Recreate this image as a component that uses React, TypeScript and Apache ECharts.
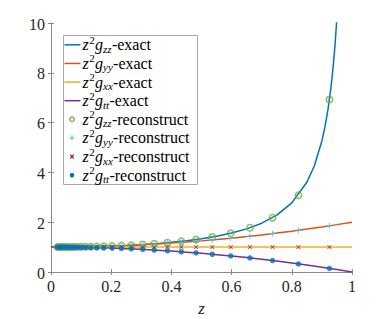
import React, { useEffect, useRef } from "react";
import * as echarts from "echarts";

// exact curves
const lineZ = [0, 0.05, 0.1, 0.15, 0.2, 0.25, 0.3, 0.35, 0.4, 0.45, 0.5, 0.55, 0.6, 0.65, 0.7, 0.75, 0.8, 0.85, 0.9, 0.95, 1];
const yyExact = [1, 1.0025, 1.01, 1.0225, 1.04, 1.0625, 1.09, 1.1225, 1.16, 1.2025, 1.25, 1.3025, 1.36, 1.4225, 1.49, 1.5625, 1.64, 1.7225, 1.81, 1.9025, 2];
const xxExact = [1, 1, 1, 1, 1, 1, 1, 1, 1, 1, 1, 1, 1, 1, 1, 1, 1, 1, 1, 1, 1];
const ttExact = [1, 0.9975, 0.99, 0.9775, 0.96, 0.9375, 0.91, 0.8775, 0.84, 0.7975, 0.75, 0.6975, 0.64, 0.5775, 0.51, 0.4375, 0.36, 0.2775, 0.19, 0.0975, 0];
const zzLineZ = [0, 0.05, 0.1, 0.15, 0.2, 0.25, 0.3, 0.35, 0.4, 0.45, 0.5, 0.55, 0.6, 0.65, 0.7, 0.75, 0.8, 0.85, 0.875, 0.9, 0.91, 0.92, 0.93, 0.935, 0.94, 0.945, 0.95];
const zzExact = [1, 1.0025, 1.0101, 1.023, 1.0417, 1.0667, 1.0989, 1.1396, 1.1905, 1.2539, 1.3333, 1.4337, 1.5625, 1.7316, 1.9608, 2.2857, 2.7778, 3.6036, 4.2667, 5.2632, 5.8173, 6.5104, 7.4074, 7.9506, 8.5911, 9.3479, 10.2564];

// reconstructed points
const reconZ = [0.021, 0.029, 0.037, 0.046, 0.054, 0.064, 0.075, 0.087, 0.1, 0.115, 0.132, 0.152, 0.175, 0.203, 0.234, 0.267, 0.305, 0.343, 0.387, 0.433, 0.482, 0.536, 0.597, 0.661, 0.736, 0.822, 0.925];
const zzRecon = [1.0, 1.001, 1.001, 1.002, 1.003, 1.004, 1.006, 1.008, 1.01, 1.013, 1.018, 1.024, 1.032, 1.043, 1.058, 1.077, 1.103, 1.133, 1.176, 1.231, 1.303, 1.403, 1.554, 1.776, 2.182, 3.084, 6.925];
const yyRecon = [1.0, 1.001, 1.001, 1.002, 1.003, 1.004, 1.006, 1.008, 1.01, 1.013, 1.017, 1.023, 1.031, 1.041, 1.055, 1.071, 1.093, 1.118, 1.15, 1.188, 1.232, 1.287, 1.356, 1.437, 1.542, 1.676, 1.856];
const xxRecon = [1, 1, 1, 1, 1, 1, 1, 1, 1, 1, 1, 1, 1, 1, 1, 1, 1, 1, 1, 1, 1, 1, 1, 1, 1, 1, 1];
const ttRecon = [1.0, 0.999, 0.999, 0.998, 0.997, 0.996, 0.994, 0.992, 0.99, 0.987, 0.983, 0.977, 0.969, 0.959, 0.945, 0.929, 0.907, 0.882, 0.85, 0.813, 0.768, 0.713, 0.644, 0.563, 0.458, 0.324, 0.144];

const xTicks = [0, 0.2, 0.4, 0.6, 0.8, 1];
const yTicks = [0, 2, 4, 6, 8, 10];
const xName = "z";

const names = [
  { key: "zz-exact", sub: "zz", tail: "-exact" },
  { key: "yy-exact", sub: "yy", tail: "-exact" },
  { key: "xx-exact", sub: "xx", tail: "-exact" },
  { key: "tt-exact", sub: "tt", tail: "-exact" },
  { key: "zz-reconstruct", sub: "zz", tail: "-reconstruct" },
  { key: "yy-reconstruct", sub: "yy", tail: "-reconstruct" },
  { key: "xx-reconstruct", sub: "xx", tail: "-reconstruct" },
  { key: "tt-reconstruct", sub: "tt", tail: "-reconstruct" },
];

const FAM = "Liberation Serif";
const AXIS = "#8a8a8a";
const LABEL = "#262626";
const C_ZZ = "#0072BD";
const C_YY = "#D95319";
const C_XX = "#EDB120";
const C_TT = "#7E2F8E";
const M_ZZ = "#77AC30";
const M_YY = "#4DBEEE";
const M_XX = "#A2142F";
const M_TT = "#0072BD";

const pair = (xs: number[], ys: number[]) => xs.map((x, i) => [x, ys[i]]);

const PLUS = "path://M4.2,0H5.8V4.2H10V5.8H5.8V10H4.2V5.8H0V4.2H4.2Z";
const CROSS = "path://M1.2,0L5,3.8L8.8,0L10,1.2L6.2,5L10,8.8L8.8,10L5,6.2L1.2,10L0,8.8L3.8,5L0,1.2Z";

let measureCtx: CanvasRenderingContext2D | null = null;
function measure(text: string, font: string): number {
  if (!measureCtx) measureCtx = document.createElement("canvas").getContext("2d");
  if (!measureCtx) return text.length * 7;
  measureCtx.font = font;
  return measureCtx.measureText(text).width;
}

export default function App() {
  const ref = useRef<HTMLDivElement>(null);
  useEffect(() => {
    if (!ref.current) return;
    document.body.style.margin = "0";
    const chart = echarts.init(ref.current, null, { renderer: "svg" });
    const lineSeries = (name: string, xs: number[], ys: number[], color: string) => ({
      name,
      type: "line",
      data: pair(xs, ys),
      symbol: "none",
      showSymbol: false,
      smooth: false,
      lineStyle: { color, width: 1.5 },
      itemStyle: { color },
      clip: true,
      z: 2,
    });
    const scatterSeries = (name: string, ys: number[], symbol: string, size: number, itemStyle: any) => ({
      name,
      type: "scatter",
      data: pair(reconZ, ys),
      symbol,
      symbolSize: size,
      itemStyle,
      z: 3,
    });
    const axisCommon = {
      axisLine: { show: true, lineStyle: { color: AXIS, width: 1 } },
      axisTick: { show: true, inside: true, length: 3, lineStyle: { color: AXIS } },
      axisLabel: { show: false },
      splitLine: { show: false },
    };
    chart.setOption({
      animation: false,
      textStyle: { fontFamily: FAM },
      grid: { left: 51, right: 37, top: 23, bottom: 47, containLabel: false },
      xAxis: [
        { type: "value", min: 0, max: 1, interval: 0.2, position: "bottom", ...axisCommon },
        { type: "value", min: 0, max: 1, interval: 0.2, position: "top", ...axisCommon },
      ],
      yAxis: [
        { type: "value", min: 0, max: 10, interval: 2, position: "left", ...axisCommon },
        { type: "value", min: 0, max: 10, interval: 2, position: "right", ...axisCommon },
      ],
      series: [
        lineSeries("zz-exact", zzLineZ, zzExact, C_ZZ),
        lineSeries("yy-exact", lineZ, yyExact, C_YY),
        lineSeries("xx-exact", lineZ, xxExact, C_XX),
        lineSeries("tt-exact", lineZ, ttExact, C_TT),
        scatterSeries("zz-reconstruct", zzRecon, "circle", 6.5, { color: "rgba(0,0,0,0)", borderColor: M_ZZ, borderWidth: 1.5 }),
        scatterSeries("yy-reconstruct", yyRecon, PLUS, 6, { color: M_YY }),
        scatterSeries("xx-reconstruct", xxRecon, CROSS, 4.5, { color: M_XX }),
        scatterSeries("tt-reconstruct", ttRecon, "circle", 5.5, { color: M_TT }),
      ],
    });

    // tick labels & axis name placed through the axes' own scales
    const g: any[] = [];
    const yBottom = chart.convertToPixel({ yAxisIndex: 0 }, 0) as number;
    const xLeft = chart.convertToPixel({ xAxisIndex: 0 }, 0) as number;
    const xRight = chart.convertToPixel({ xAxisIndex: 0 }, 1) as number;
    xTicks.forEach((v) => {
      const px = chart.convertToPixel({ xAxisIndex: 0 }, v) as number;
      g.push({
        type: "text",
        x: px,
        y: yBottom + 14.5,
        z: 50,
        style: { text: String(v), fontFamily: FAM, fontSize: 16, fill: LABEL, align: "center", verticalAlign: "middle" },
      });
    });
    yTicks.forEach((v) => {
      const py = chart.convertToPixel({ yAxisIndex: 0 }, v) as number;
      g.push({
        type: "text",
        x: xLeft - 6,
        y: py + 1,
        z: 50,
        style: { text: String(v), fontFamily: FAM, fontSize: 16, fill: LABEL, align: "right", verticalAlign: "middle" },
      });
    });
    g.push({
      type: "text",
      x: (xLeft + xRight) / 2,
      y: yBottom + 36,
      z: 50,
      style: { text: xName, fontFamily: FAM, fontStyle: "italic", fontSize: 17, fill: LABEL, align: "center", verticalAlign: "middle" },
    });

    // legend
    const boxX = 63.5, boxY = 35.5, boxW = 134, boxH = 149;
    g.push({ type: "rect", z: 100, shape: { x: boxX, y: boxY, width: boxW, height: boxH }, style: { fill: "#ffffff", stroke: "#a8a8a8", lineWidth: 1 } });
    const rowH = boxH / names.length;
    const iconX1 = 64.5, iconX2 = 80.5, iconCx = 72;
    const lineColors = [C_ZZ, C_YY, C_XX, C_TT];
    names.forEach((n, i) => {
      const cy = boxY + rowH * (i + 0.5);
      if (i < 4) {
        g.push({ type: "line", z: 101, shape: { x1: iconX1, y1: cy, x2: iconX2, y2: cy }, style: { stroke: lineColors[i], lineWidth: 1.5 } });
      } else if (i === 4) {
        g.push({ type: "circle", z: 101, shape: { cx: iconCx, cy, r: 2.2 }, style: { fill: "none", stroke: M_ZZ, lineWidth: 1.3 } });
      } else if (i === 5) {
        g.push({ type: "line", z: 101, shape: { x1: iconCx - 2.5, y1: cy, x2: iconCx + 2.5, y2: cy }, style: { stroke: M_YY, lineWidth: 1 } });
        g.push({ type: "line", z: 101, shape: { x1: iconCx, y1: cy - 2.5, x2: iconCx, y2: cy + 2.5 }, style: { stroke: M_YY, lineWidth: 1 } });
      } else if (i === 6) {
        g.push({ type: "line", z: 101, shape: { x1: iconCx - 1.8, y1: cy - 1.8, x2: iconCx + 1.8, y2: cy + 1.8 }, style: { stroke: M_XX, lineWidth: 1.2 } });
        g.push({ type: "line", z: 101, shape: { x1: iconCx - 1.8, y1: cy + 1.8, x2: iconCx + 1.8, y2: cy - 1.8 }, style: { stroke: M_XX, lineWidth: 1.2 } });
      } else {
        g.push({ type: "circle", z: 101, shape: { cx: iconCx, cy, r: 2.3 }, style: { fill: M_TT } });
      }
      let x = 82.5;
      const piece = (text: string, size: number, italic: boolean, dy: number) => {
        g.push({
          type: "text",
          z: 102,
          x,
          y: cy + dy,
          style: { text, fontFamily: FAM, fontSize: size, fontStyle: italic ? "italic" : "normal", fill: "#000", align: "left", verticalAlign: "middle" },
        });
        x += measure(text, `${italic ? "italic " : ""}${size}px "${FAM}"`);
      };
      piece("z", 16, true, 0);
      x += 0.5;
      piece("2", 11, false, -5);
      x += 0.3;
      piece("g", 16, true, 0);
      piece(n.sub, 11, true, 4);
      x += 0.3;
      piece(n.tail, 16, false, 0);
    });
    chart.setOption({ graphic: g });
    return () => chart.dispose();
  }, []);
  return <div ref={ref} style={{ width: 389, height: 319 }} />;
}
